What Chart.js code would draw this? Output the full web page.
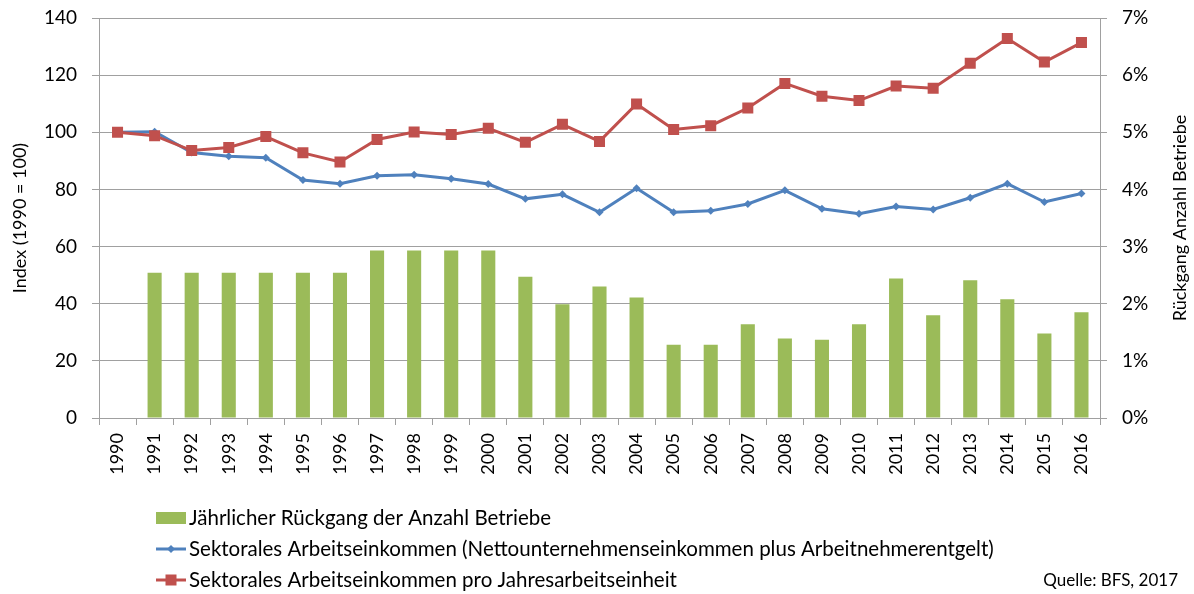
<!DOCTYPE html>
<html>
<head>
<meta charset="utf-8">
<script src="https://cdn.jsdelivr.net/npm/chart.js@4"></script>
<style>
  html, body { margin: 0; padding: 0; background: #fff; }
  #wrap { width: 1194px; height: 594px; }
</style>
</head>
<body>
<div id="wrap"><canvas id="chart"></canvas></div>
<script>
// data
const years = ['1990','1991','1992','1993','1994','1995','1996','1997','1998','1999','2000','2001','2002','2003',
               '2004','2005','2006','2007','2008','2009','2010','2011','2012','2013','2014','2015','2016'];
const rueckgang = [null, 2.54, 2.54, 2.54, 2.54, 2.54, 2.54, 2.93, 2.93, 2.93, 2.93, 2.47, 1.99, 2.30,
                   2.11, 1.28, 1.28, 1.64, 1.39, 1.37, 1.64, 2.44, 1.80, 2.41, 2.08, 1.48, 1.85];
const einkommen = [100, 100.2, 92.9, 91.6, 91.1, 83.3, 82.0, 84.8, 85.1, 83.7, 81.9, 76.7, 78.3, 72.0,
                   80.4, 72.0, 72.5, 74.9, 79.7, 73.2, 71.5, 74.0, 73.0, 77.1, 82.0, 75.6, 78.6];
const einkommenJAE = [100, 98.8, 93.6, 94.7, 98.5, 92.8, 89.6, 97.5, 100.1, 99.2, 101.4, 96.5, 102.8, 96.8,
                      109.9, 101.0, 102.3, 108.5, 117.1, 112.6, 111.1, 116.2, 115.4, 124.2, 132.8, 124.6, 131.4];

const labelBars = 'Jährlicher Rückgang der Anzahl Betriebe';
const labelBlue = 'Sektorales Arbeitseinkommen (Nettounternehmenseinkommen plus Arbeitnehmerentgelt)';
const labelRed = 'Sektorales Arbeitseinkommen pro Jahresarbeitseinheit';

const GREEN = '#9BBB59', BLUE = '#4F81BD', RED = '#C0504D';
const GRID = '#A0A0A0';
const FONT = 'Lato, "Open Sans", sans-serif';

// legend in a column + right axis title + source note
const extras = {
    id: 'extras',
    afterDraw(chart) {
        const ctx = chart.ctx;
        const area = chart.chartArea;
        ctx.save();

        // right title, reading upwards
        ctx.fillStyle = '#000';
        ctx.font = '18px ' + FONT;
        ctx.textAlign = 'center';
        ctx.textBaseline = 'middle';
        ctx.translate(1180, (area.top + area.bottom) / 2);
        ctx.rotate(-Math.PI / 2);
        ctx.fillText('Rückgang Anzahl Betriebe', 0, 0);
        ctx.setTransform(1, 0, 0, 1, 0, 0);

        const rows = [518, 549, 580];
        const x0 = 156, x1 = 186;
        ctx.font = '20.5px ' + FONT;
        ctx.textAlign = 'left';

        // bars
        ctx.fillStyle = GREEN;
        ctx.fillRect(x0, rows[0] - 6, x1 - x0, 12);
        ctx.fillStyle = '#000';
        ctx.fillText(labelBars, 189, rows[0]);

        // blue line
        ctx.strokeStyle = BLUE;
        ctx.lineWidth = 3;
        ctx.beginPath();
        ctx.moveTo(x0, rows[1]);
        ctx.lineTo(x1, rows[1]);
        ctx.stroke();
        ctx.fillStyle = BLUE;
        ctx.beginPath();
        ctx.moveTo(171, rows[1] - 4);
        ctx.lineTo(175, rows[1]);
        ctx.lineTo(171, rows[1] + 4);
        ctx.lineTo(167, rows[1]);
        ctx.closePath();
        ctx.fill();
        ctx.fillStyle = '#000';
        ctx.fillText(labelBlue, 189, rows[1]);

        // red line
        ctx.strokeStyle = RED;
        ctx.beginPath();
        ctx.moveTo(x0, rows[2]);
        ctx.lineTo(x1, rows[2]);
        ctx.stroke();
        ctx.fillStyle = RED;
        ctx.fillRect(165.5, rows[2] - 5.5, 11, 11);
        ctx.fillStyle = '#000';
        ctx.fillText(labelRed, 189, rows[2]);

        ctx.font = '17px ' + FONT;
        ctx.textAlign = 'right';
        ctx.fillText('Quelle: BFS, 2017', 1178, 581);
        ctx.restore();
    }
};

// keep the plot top where the reference has it
function fixY(width) {
    return function (scale) {
        scale.width = width;
        scale.paddingTop = 0;
        scale.paddingBottom = 0;
    };
}

new Chart(document.getElementById('chart'), {
    type: 'bar',
    data: {
        labels: years,
        datasets: [
            {
                type: 'line',
                label: labelRed,
                data: einkommenJAE,
                yAxisID: 'y',
                borderColor: RED,
                backgroundColor: RED,
                borderWidth: 3,
                pointStyle: 'rect',
                pointRadius: 7.8,
                pointBorderWidth: 0,
                tension: 0,
                order: 0
            },
            {
                type: 'line',
                label: labelBlue,
                data: einkommen,
                yAxisID: 'y',
                borderColor: BLUE,
                backgroundColor: BLUE,
                borderWidth: 3,
                pointStyle: 'rectRot',
                pointRadius: 4,
                pointBorderWidth: 0,
                tension: 0,
                order: 1
            },
            {
                label: labelBars,
                data: rueckgang,
                yAxisID: 'y1',
                backgroundColor: GREEN,
                barPercentage: 0.38,
                categoryPercentage: 1,
                order: 2
            }
        ]
    },
    options: {
        responsive: true,
        maintainAspectRatio: false,
        animation: false,
        layout: { padding: { top: 18, left: 0, right: 0, bottom: 0 } },
        plugins: {
            legend: { display: false },
            tooltip: { enabled: false }
        },
        scales: {
            x: {
                offset: true,
                grid: { offset: true, drawOnChartArea: false, drawTicks: true, tickLength: 7, color: GRID },
                border: { color: GRID },
                ticks: { color: '#000', font: { family: FONT, size: 18 }, maxRotation: 90, minRotation: 90, padding: 8 },
                afterFit(scale) { scale.height = 176; }
            },
            y: {
                position: 'left',
                min: 0,
                max: 140,
                ticks: { stepSize: 20, color: '#000', font: { family: FONT, size: 19 }, padding: 15 },
                grid: { color: GRID, tickLength: 7 },
                border: { color: GRID },
                title: { display: true, text: 'Index (1990 = 100)', color: '#000', font: { family: FONT, size: 18 }, padding: { top: 9 } },
                afterFit: fixY(99)
            },
            y1: {
                position: 'right',
                min: 0,
                max: 7,
                ticks: { stepSize: 1, color: '#000', font: { family: FONT, size: 19 }, padding: 15,
                         callback: v => v + '%' },
                grid: { drawOnChartArea: false, color: GRID, tickLength: 7 },
                border: { color: GRID },
                afterFit: fixY(94)
            }
        }
    },
    plugins: [extras]
});
</script>
</body>
</html>
